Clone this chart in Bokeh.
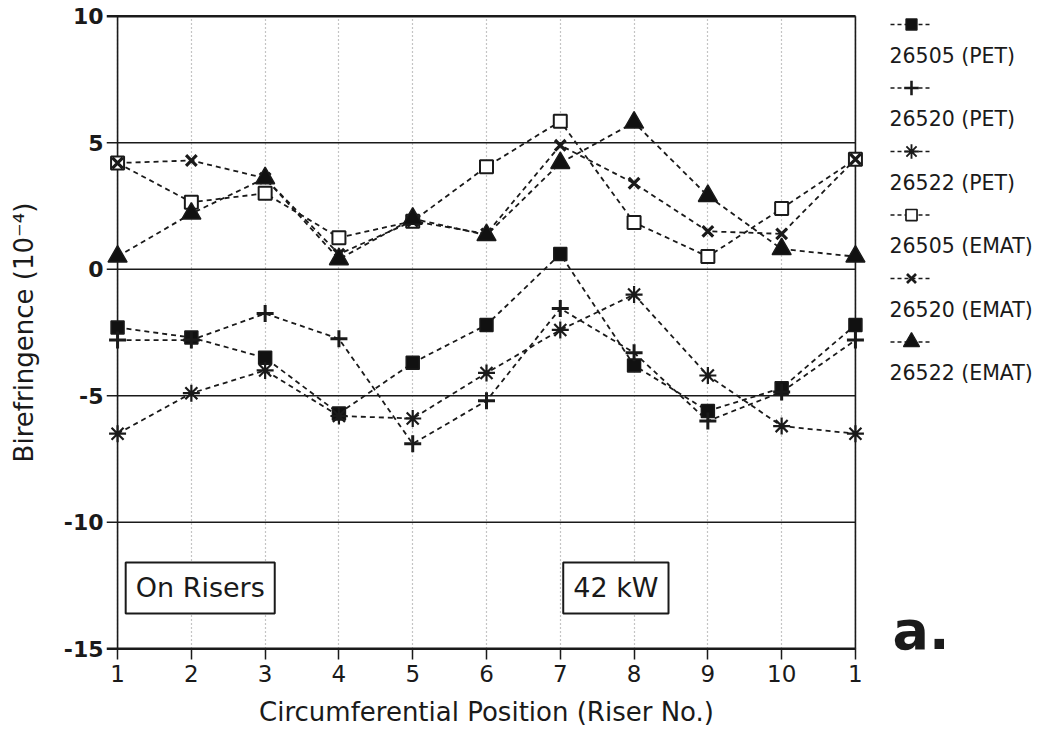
from bokeh.plotting import figure
from bokeh.models import Range1d, FixedTicker, Label
from bokeh.layouts import row
from bokeh.embed import file_html
from bokeh.resources import INLINE
from bokeh.core.properties import value

# ---------------- data ----------------
riser = [1, 2, 3, 4, 5, 6, 7, 8, 9, 10, 11]
x_tick_labels = ["1", "2", "3", "4", "5", "6", "7", "8", "9", "10", "1"]
y_ticks = [-15, -10, -5, 0, 5, 10]
y_tick_labels = ["-15", "-10", "-5", "0", "5", "10"]

pet_26505 = [-2.3, -2.7, -3.5, -5.7, -3.7, -2.2, 0.6, -3.8, -5.6, -4.7, -2.2]
pet_26520 = [-2.8, -2.8, -1.75, -2.75, -6.9, -5.2, -1.55, -3.3, -6.0, -4.85, -2.8]
pet_26522 = [-6.5, -4.9, -4.0, -5.8, -5.9, -4.1, -2.4, -1.0, -4.2, -6.2, -6.5]
emat_26505 = [4.2, 2.65, 3.0, 1.25, 1.9, 4.05, 5.85, 1.85, 0.5, 2.4, 4.35]
emat_26520 = [4.2, 4.3, 3.6, 0.6, 1.9, 1.4, 4.9, 3.4, 1.5, 1.4, 4.35]
emat_26522 = [0.5, 2.2, 3.6, 0.4, 2.0, 1.35, 4.2, 5.8, 2.9, 0.8, 0.5]

series_names = ["26505 (PET)", "26520 (PET)", "26522 (PET)",
                "26505 (EMAT)", "26520 (EMAT)", "26522 (EMAT)"]
series_values = [pet_26505, pet_26520, pet_26522, emat_26505, emat_26520, emat_26522]

# marker styles: (marker, size, fill, line_width)
styles = [
    ("square", 13, "#111111", 1.5),
    ("cross", 17, "#111111", 3.0),
    ("asterisk", 17, "#111111", 2.2),
    ("square", 13, "white", 2.0),
    ("x", 15, "#111111", 3.2),
    ("triangle", 19, "#111111", 1.5),
]

FONT = "DejaVu Sans"
INK = "#1a1a1a"
TOP, BOTTOM = 12, 80

# ---------------- main plot ----------------
p = figure(width=866, height=732, output_backend="svg", toolbar_location=None,
           x_range=Range1d(0.85, 11.15), y_range=Range1d(-15.15, 10.15),
           min_border_left=106, min_border_right=0, min_border_top=TOP,
           min_border_bottom=BOTTOM)
p.outline_line_color = None
p.background_fill_color = "white"
p.border_fill_color = "white"

# axes
p.xaxis.ticker = FixedTicker(ticks=riser)
p.xaxis.major_label_overrides = {t: l for t, l in zip(riser, x_tick_labels)}
p.xaxis.axis_line_color = None
p.xaxis.major_tick_in = 4
p.xaxis.major_tick_out = 7
p.xaxis.major_tick_line_color = INK
p.xaxis.major_tick_line_width = 1.5
p.xaxis.minor_tick_line_color = None
p.xaxis.major_label_standoff = 5
p.xaxis.major_label_text_font = FONT
p.xaxis.major_label_text_font_size = "23px"
p.xaxis.major_label_text_color = INK
p.xaxis.axis_label = "Circumferential Position (Riser No.)"
p.xaxis.axis_label_text_font = FONT
p.xaxis.axis_label_text_font_size = "26px"
p.xaxis.axis_label_text_font_style = "normal"
p.xaxis.axis_label_text_color = INK
p.xaxis.axis_label_standoff = 12

p.yaxis.ticker = FixedTicker(ticks=y_ticks)
p.yaxis.major_label_overrides = {t: l for t, l in zip(y_ticks, y_tick_labels)}
p.yaxis.axis_line_color = None
p.yaxis.major_tick_in = 0
p.yaxis.major_tick_out = 0
p.yaxis.minor_tick_line_color = None
p.yaxis.major_label_standoff = 3
p.yaxis.major_label_text_font = FONT
p.yaxis.major_label_text_font_size = "22px"
p.yaxis.major_label_text_font_style = "bold"
p.yaxis.major_label_text_color = INK
p.yaxis.axis_label = "Birefringence (10⁻⁴)"
p.yaxis.axis_label_text_font = FONT
p.yaxis.axis_label_text_font_size = "26px"
p.yaxis.axis_label_text_font_style = "normal"
p.yaxis.axis_label_text_color = INK
p.yaxis.axis_label_standoff = 22

# vertical dotted grid
p.xgrid.ticker = FixedTicker(ticks=riser)
p.xgrid.grid_line_color = "#8a8a8a"
p.xgrid.grid_line_dash = "1 3"
p.xgrid.grid_line_width = 1.2
p.ygrid.grid_line_color = None

# horizontal lines (extend left of the axis as tick marks)
x_left = p.x_range.start
x_right = riser[-1]
h_widths = [2.6 if t in (y_ticks[0], y_ticks[-1]) else 1.5 for t in y_ticks]
p.segment(x0=[x_left] * len(y_ticks), x1=[x_right] * len(y_ticks),
          y0=y_ticks, y1=y_ticks, line_color=INK, line_width=h_widths)
# vertical frame lines at first and last position
p.segment(x0=[riser[0], riser[-1]], x1=[riser[0], riser[-1]],
          y0=[y_ticks[0]] * 2, y1=[y_ticks[-1]] * 2, line_color=INK, line_width=1.6)

# series lines
for vals in series_values:
    p.line(riser, vals, line_color=INK, line_width=1.8, line_dash="5 4")
# markers
for vals, (mk, sz, fill, lw) in zip(series_values, styles):
    p.scatter(riser, vals, marker=mk, size=sz, fill_color=fill,
              line_color=INK, line_width=lw)

# annotation boxes
for txt, xpos in [("On Risers", 1.11), ("42 kW", 7.04)]:
    p.add_layout(Label(x=xpos, y=-12.6, text=txt, text_font=FONT,
                       text_font_size="27px", text_color=INK,
                       text_baseline="middle", text_align="left",
                       border_line_color=INK, border_line_width=2,
                       background_fill_color="white", padding=10))

# ---------------- legend panel (frame aligned with main plot; units = pixels) ----------------
leg = figure(width=178, height=732, output_backend="svg", toolbar_location=None,
             x_range=Range1d(0, 178), y_range=Range1d(732 - BOTTOM, TOP),
             x_axis_location=None, y_axis_location=None,
             min_border_left=0, min_border_right=0,
             min_border_top=TOP, min_border_bottom=BOTTOM)
leg.grid.visible = False
leg.outline_line_color = None
leg.background_fill_color = "white"
leg.border_fill_color = "white"

for i, (name, (mk, sz, fill, lw)) in enumerate(zip(series_names, styles)):
    yg = 24 + 63.5 * i
    leg.segment(x0=[24], x1=[66], y0=[yg], y1=[yg], line_color=INK,
                line_width=1.6, line_dash="4 3")
    leg.scatter([45], [yg], marker=mk, size=sz * 0.85, fill_color=fill,
                line_color=INK, line_width=lw * 0.85)
    leg.text(x=[23], y=[yg + 31], text=[name], text_font=value(FONT),
             text_font_size="20.5px", text_color=INK,
             text_baseline="middle", text_align="left")

leg.add_layout(Label(x=26, y=630, text="a.", text_font=FONT,
                     text_font_size="54px", text_font_style="bold",
                     text_color=INK, text_baseline="middle", text_align="left"))

layout = row(p, leg)
open("out.html", "w").write(file_html(layout, INLINE))
